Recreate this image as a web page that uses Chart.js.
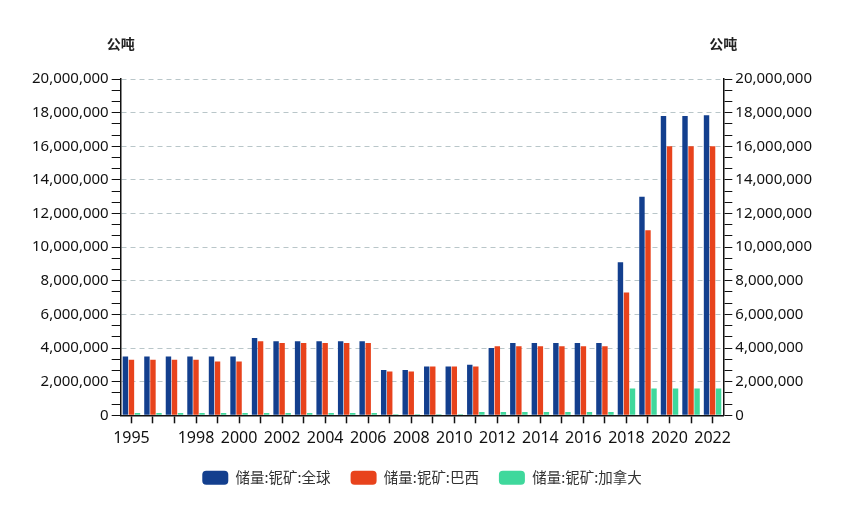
<!DOCTYPE html>
<html>
<head>
<meta charset="utf-8">
<script src="https://cdn.jsdelivr.net/npm/chart.js@4/dist/chart.umd.min.js"></script>
<style>
  html, body { margin: 0; padding: 0; background: #fff; }
  #wrap { width: 842px; height: 516px; }
</style>
</head>
<body>
<div id="wrap"><canvas id="canvas" width="842" height="516"></canvas></div>
<script>
// ---------- data (公吨) ----------
const years = ['1995','1996','1997','1998','1999','2000','2001','2002','2003','2004',
  '2005','2006','2007','2008','2009','2010','2011','2012','2013','2014',
  '2015','2016','2017','2018','2019','2020','2021','2022']

const world = [3500000,3500000,3500000,3500000,3500000,3500000,4600000,4400000,4400000,4400000,
  4400000,4400000,2700000,2700000,2900000,2900000,3000000,4000000,4300000,4300000,
  4300000,4300000,4300000,9100000,13000000,17800000,17800000,17850000]

const brazil = [3300000,3300000,3300000,3300000,3200000,3200000,4400000,4300000,4300000,4300000,
  4300000,4300000,2600000,2600000,2900000,2900000,2900000,4100000,4100000,4100000,
  4100000,4100000,4100000,7300000,11000000,16000000,16000000,16000000]

const canada = [140000,140000,140000,140000,140000,140000,140000,140000,140000,140000,
  140000,140000,60000,60000,60000,60000,200000,200000,200000,200000,
  200000,200000,200000,1600000,1600000,1600000,1600000,1600000]

const seriesNames = ['储量:铌矿:全球', '储量:铌矿:巴西', '储量:铌矿:加拿大']
const shownYears = ['1995','1998','2000','2002','2004','2006','2008','2010','2012','2014','2016','2018','2020','2022']
const yMax = 20000000
const yMajor = 2000000
const unitLabel = '公吨'

const fontFamily = '"Noto Sans", "Noto Sans CJK SC", sans-serif'

// major ticks every 2,000,000 with two minor ticks in between
function buildYTicks(scale) {
  let ticks = []
  for (let i = 0; i <= 30; i++) {
    ticks.push({ value: i * yMajor / 3, major: i % 3 === 0 })
  }
  scale.ticks = ticks
}

function yLabel(value, index) {
  if (index % 3 !== 0) return ''
  return Math.round(value).toLocaleString('en-US')
}

// draws "公吨" above both y axes
const unitTitles = {
  id: 'unitTitles',
  afterDraw(chart) {
    let ctx = chart.ctx
    ctx.save()
    ctx.font = 'bold 14px "Noto Sans CJK SC", sans-serif'
    ctx.fillStyle = '#222'
    ctx.textAlign = 'center'
    ctx.textBaseline = 'middle'
    ctx.fillText(unitLabel, chart.scales.y.right, 44)
    ctx.fillText(unitLabel, chart.scales.y2.left, 44)
    ctx.restore()
  }
}

const colors = ['#133f8e', '#e8431c', '#3fd89c']

const ctx = document.getElementById('canvas').getContext('2d')
const myChart = new Chart(ctx, {
  type: 'bar',
  data: {
    labels: years,
    datasets: [
      { label: seriesNames[0], data: world, backgroundColor: colors[0], yAxisID: 'y' },
      { label: seriesNames[1], data: brazil, backgroundColor: colors[1], yAxisID: 'y' },
      { label: seriesNames[2], data: canada, backgroundColor: colors[2], yAxisID: 'y' }
    ]
  },
  options: {
    responsive: false,
    animation: false,
    datasets: {
      bar: { categoryPercentage: 0.84, barPercentage: 0.9 }
    },
    layout: { padding: { left: 29, right: 27, top: 79, bottom: 21 } },
    plugins: {
      legend: {
        position: 'bottom',
        labels: {
          boxWidth: 26,
          boxHeight: 14,
          useBorderRadius: true,
          borderRadius: 4,
          padding: 20,
          color: '#333',
          font: { family: '"Noto Sans CJK SC", sans-serif', size: 14.5 }
        }
      },
      tooltip: { enabled: false }
    },
    scales: {
      x: {
        offset: true,
        afterFit: function(scale) { scale.height -= 4 },
        grid: {
          offset: false,
          drawOnChartArea: false,
          drawTicks: true,
          tickLength: 8,
          tickColor: '#111',
          tickWidth: 1.5
        },
        border: { color: '#111', width: 1.5 },
        ticks: {
          autoSkip: false,
          maxRotation: 0,
          padding: 6,
          color: '#111',
          font: { family: fontFamily, size: 16 },
          callback: function(value, index) {
            let y = years[index]
            return shownYears.includes(y) ? y : ''
          }
        }
      },
      y: {
        position: 'left',
        min: 0,
        max: yMax,
        afterBuildTicks: buildYTicks,
        grid: {
          color: (c) => (c.index % 3 === 0 && c.index !== 0) ? '#b9c6c9' : 'rgba(0,0,0,0)',
          tickColor: '#111',
          tickLength: 9,
          lineWidth: 1
        },
        border: { color: '#111', width: 1.5, dash: [5, 4] },
        ticks: {
          autoSkip: false,
          padding: 3,
          color: '#111',
          font: { family: fontFamily, size: 15 },
          callback: function(value, index) { return yLabel(value, index) }
        }
      },
      y2: {
        position: 'right',
        min: 0,
        max: yMax,
        afterBuildTicks: buildYTicks,
        grid: {
          drawOnChartArea: false,
          tickColor: '#111',
          tickLength: 9
        },
        border: { color: '#111', width: 1.5 },
        ticks: {
          autoSkip: false,
          padding: 3,
          color: '#111',
          font: { family: fontFamily, size: 15 },
          callback: function(value, index) { return yLabel(value, index) }
        }
      }
    }
  },
  plugins: [unitTitles, { id: 'bg', beforeDraw(c) {
    c.ctx.save(); c.ctx.fillStyle = '#fff'; c.ctx.fillRect(0, 0, c.width, c.height); c.ctx.restore()
  } }]
})
</script>
</body>
</html>
